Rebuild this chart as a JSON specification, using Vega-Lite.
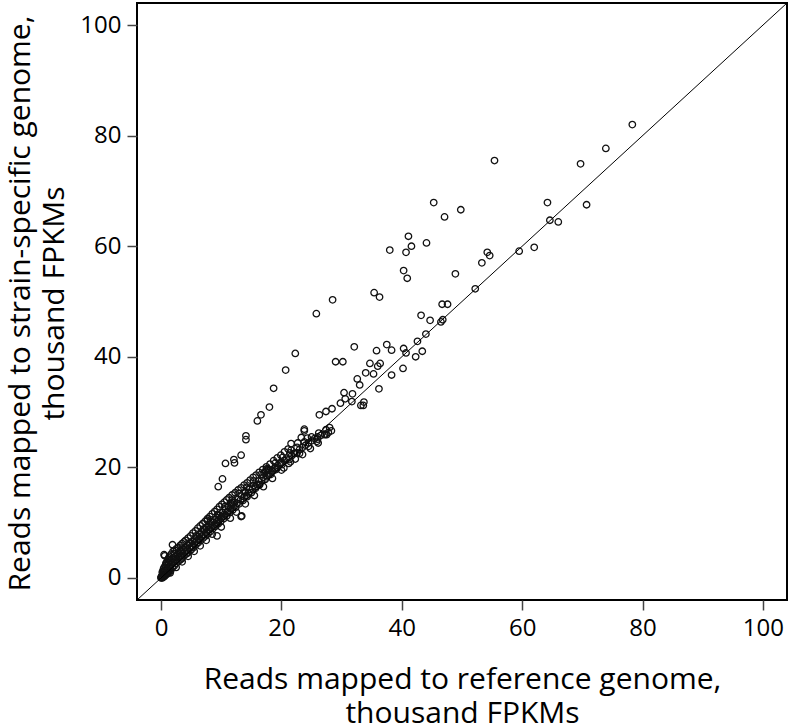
{
  "$schema": "https://vega.github.io/schema/vega-lite/v6.json",
  "autosize": {"type": "none"},
  "padding": {"left": 137, "top": 3, "right": 5, "bottom": 126},
  "width": 650,
  "height": 597,
  "config": {
    "font": "Open Sans",
    "view": {"stroke": "#000", "strokeWidth": 2},
    "axis": {
      "domain": false, "grid": false,
      "tickColor": "#444", "tickWidth": 1.5, "tickSize": 10,
      "labelFont": "Open Sans", "labelFontSize": 24, "labelColor": "#000", "labelPadding": 6,
      "titleFont": "Open Sans", "titleFontSize": 30, "titleFontWeight": "normal", "titleColor": "#000"
    }
  },
  "datasets": {
    "diag": [{"ref": -4, "strain": -4}, {"ref": 104, "strain": 104}],
    "pts": [
      {"ref":1.9,"strain":6.0},{"ref":0.5,"strain":4.2},{"ref":0.6,"strain":4.0},{"ref":7.7,"strain":10.4},
      {"ref":9.5,"strain":16.5},{"ref":10.2,"strain":17.9},{"ref":10.7,"strain":20.7},{"ref":12.1,"strain":21.4},
      {"ref":12.2,"strain":20.8},{"ref":13.3,"strain":22.2},{"ref":14.1,"strain":25.7},{"ref":14.1,"strain":25.0},
      {"ref":16.0,"strain":28.4},{"ref":16.6,"strain":29.5},{"ref":18.0,"strain":30.9},{"ref":18.7,"strain":34.3},
      {"ref":20.7,"strain":37.6},{"ref":22.3,"strain":40.6},{"ref":25.8,"strain":47.8},{"ref":28.5,"strain":50.3},
      {"ref":35.4,"strain":51.6},{"ref":36.3,"strain":50.8},{"ref":38.0,"strain":59.3},{"ref":40.7,"strain":58.9},
      {"ref":41.1,"strain":61.8},{"ref":41.6,"strain":60.0},{"ref":44.1,"strain":60.6},{"ref":40.3,"strain":55.6},
      {"ref":40.9,"strain":54.2},{"ref":45.3,"strain":67.9},{"ref":47.1,"strain":65.3},{"ref":49.8,"strain":66.6},
      {"ref":55.4,"strain":75.5},{"ref":48.9,"strain":55.0},{"ref":53.3,"strain":57.0},{"ref":54.2,"strain":58.9},
      {"ref":54.6,"strain":58.3},{"ref":52.2,"strain":52.3},{"ref":59.5,"strain":59.1},{"ref":62.0,"strain":59.8},
      {"ref":64.2,"strain":67.9},{"ref":64.6,"strain":64.7},{"ref":66.0,"strain":64.4},{"ref":70.7,"strain":67.5},
      {"ref":69.7,"strain":74.9},{"ref":73.9,"strain":77.7},{"ref":78.3,"strain":82.0},
      {"ref":43.2,"strain":47.5},{"ref":44.7,"strain":46.6},{"ref":46.7,"strain":49.5},{"ref":47.6,"strain":49.5},
      {"ref":46.5,"strain":46.3},{"ref":46.8,"strain":46.7},{"ref":44.0,"strain":44.1},{"ref":42.6,"strain":42.8},
      {"ref":40.3,"strain":41.5},{"ref":40.7,"strain":40.7},{"ref":43.4,"strain":41.0},{"ref":42.3,"strain":40.0},
      {"ref":40.2,"strain":37.9},{"ref":32.1,"strain":41.8},{"ref":35.8,"strain":41.1},{"ref":37.5,"strain":42.2},
      {"ref":38.3,"strain":41.2},{"ref":29.0,"strain":39.1},{"ref":30.2,"strain":39.1},{"ref":34.7,"strain":38.8},
      {"ref":36.4,"strain":38.8},{"ref":36.0,"strain":38.3},{"ref":34.0,"strain":37.1},{"ref":35.3,"strain":36.9},
      {"ref":38.3,"strain":36.7},{"ref":32.6,"strain":36.0},{"ref":33.0,"strain":34.9},{"ref":36.2,"strain":34.2},
      {"ref":30.4,"strain":33.5},{"ref":31.8,"strain":33.3},{"ref":30.6,"strain":32.4},{"ref":31.7,"strain":31.9},
      {"ref":33.7,"strain":31.8},{"ref":33.6,"strain":31.2},{"ref":33.2,"strain":31.2},{"ref":29.8,"strain":31.6},
      {"ref":28.4,"strain":30.6},{"ref":27.4,"strain":30.1},{"ref":26.3,"strain":29.5},{"ref":23.8,"strain":26.9},
      {"ref":23.8,"strain":26.6},{"ref":24.3,"strain":25.3},{"ref":23.3,"strain":25.4},{"ref":22.7,"strain":24.4},
      {"ref":21.6,"strain":24.3},{"ref":21.6,"strain":23.1},{"ref":22.2,"strain":22.5},{"ref":27.2,"strain":25.9},
      {"ref":25.9,"strain":24.7},{"ref":24.8,"strain":23.4},{"ref":17.5,"strain":19.7},{"ref":19.9,"strain":20.9},
      {"ref":19.0,"strain":19.9},{"ref":13.4,"strain":11.2},{"ref":9.3,"strain":7.6},
      {"ref":26.1,"strain":24.4},{"ref":23.5,"strain":22.3},{"ref":22.3,"strain":21.5},{"ref":21.2,"strain":20.7},
      {"ref":20.4,"strain":19.9},{"ref":19.3,"strain":19.9},{"ref":18.5,"strain":19.3},{"ref":17.4,"strain":19.3},
      {"ref":17.6,"strain":18.5},{"ref":14.0,"strain":15.6},{"ref":14.2,"strain":14.9},{"ref":15.7,"strain":16.5},
      {"ref":16.3,"strain":16.8},{"ref":17.1,"strain":19.0},{"ref":17.8,"strain":19.4},{"ref":11.6,"strain":13.5},
      {"ref":11.1,"strain":12.0},{"ref":10.3,"strain":11.1},{"ref":9.6,"strain":10.5},{"ref":9.2,"strain":9.6},
      {"ref":8.0,"strain":8.7},{"ref":6.3,"strain":6.9},{"ref":5.2,"strain":5.6},{"ref":4.4,"strain":4.5},
      {"ref":3.4,"strain":3.4},{"ref":11.9,"strain":13.6},{"ref":13.3,"strain":11.1},
      {"ref":0.0,"strain":0.1},{"ref":0.1,"strain":0.3},{"ref":0.2,"strain":0.0},{"ref":0.3,"strain":0.6},
      {"ref":0.4,"strain":0.9},{"ref":0.5,"strain":0.2},{"ref":0.6,"strain":1.3},{"ref":0.7,"strain":0.5},
      {"ref":0.8,"strain":1.8},{"ref":0.9,"strain":1.0},{"ref":1.0,"strain":2.4},{"ref":1.0,"strain":0.8},
      {"ref":1.1,"strain":1.5},{"ref":1.2,"strain":2.9},{"ref":1.3,"strain":1.2},{"ref":1.4,"strain":2.0},
      {"ref":1.5,"strain":3.1},{"ref":1.6,"strain":1.7},{"ref":1.7,"strain":2.5},{"ref":1.8,"strain":3.4},
      {"ref":1.9,"strain":1.9},{"ref":2.0,"strain":2.8},{"ref":2.1,"strain":3.6},{"ref":2.2,"strain":2.2},
      {"ref":2.3,"strain":3.0},{"ref":2.4,"strain":3.9},{"ref":2.5,"strain":2.6},{"ref":2.6,"strain":3.4},
      {"ref":2.7,"strain":4.2},{"ref":2.8,"strain":2.9},{"ref":2.9,"strain":3.7},{"ref":3.0,"strain":4.5},
      {"ref":3.1,"strain":3.2},{"ref":3.2,"strain":4.0},{"ref":3.3,"strain":4.8},{"ref":3.5,"strain":3.6},
      {"ref":3.6,"strain":4.4},{"ref":3.7,"strain":5.2},{"ref":3.8,"strain":4.0},{"ref":3.9,"strain":4.7},
      {"ref":4.0,"strain":5.5},{"ref":4.2,"strain":4.3},{"ref":4.3,"strain":5.0},{"ref":4.4,"strain":5.9},
      {"ref":4.6,"strain":4.7},{"ref":4.7,"strain":5.4},{"ref":4.8,"strain":6.2},{"ref":5.0,"strain":5.1},
      {"ref":5.1,"strain":5.8},{"ref":5.2,"strain":6.6},{"ref":5.4,"strain":5.5},{"ref":5.5,"strain":6.3},
      {"ref":5.6,"strain":7.0},{"ref":5.8,"strain":6.0},{"ref":5.9,"strain":6.7},{"ref":6.0,"strain":7.4},
      {"ref":6.2,"strain":6.4},{"ref":6.3,"strain":7.1},{"ref":6.4,"strain":7.9},{"ref":6.6,"strain":6.8},
      {"ref":6.7,"strain":7.5},{"ref":6.8,"strain":8.3},{"ref":7.0,"strain":7.2},{"ref":7.1,"strain":7.9},
      {"ref":7.2,"strain":8.7},{"ref":7.4,"strain":7.6},{"ref":7.5,"strain":8.3},{"ref":7.6,"strain":9.1},
      {"ref":7.8,"strain":8.0},{"ref":7.9,"strain":8.8},{"ref":8.0,"strain":9.6},{"ref":8.2,"strain":8.4},
      {"ref":8.3,"strain":9.2},{"ref":8.5,"strain":10.1},{"ref":8.6,"strain":8.9},{"ref":8.8,"strain":9.6},
      {"ref":8.9,"strain":10.5},{"ref":9.0,"strain":9.3},{"ref":9.2,"strain":10.1},{"ref":9.3,"strain":10.9},
      {"ref":9.5,"strain":9.8},{"ref":9.6,"strain":10.6},{"ref":9.7,"strain":11.3},{"ref":9.9,"strain":10.2},
      {"ref":10.0,"strain":11.0},{"ref":10.2,"strain":11.8},{"ref":10.4,"strain":10.7},{"ref":10.5,"strain":11.5},
      {"ref":10.7,"strain":12.3},{"ref":10.9,"strain":11.2},{"ref":11.0,"strain":12.0},{"ref":11.2,"strain":12.8},
      {"ref":11.4,"strain":11.8},{"ref":11.5,"strain":12.5},{"ref":11.7,"strain":13.2},{"ref":11.9,"strain":12.3},
      {"ref":12.0,"strain":13.0},{"ref":12.2,"strain":13.7},{"ref":12.4,"strain":12.8},{"ref":12.6,"strain":13.5},
      {"ref":12.8,"strain":14.2},{"ref":13.0,"strain":13.4},{"ref":13.2,"strain":14.1},{"ref":13.4,"strain":14.8},
      {"ref":13.6,"strain":14.0},{"ref":13.8,"strain":14.7},{"ref":14.0,"strain":15.4},{"ref":14.3,"strain":14.7},
      {"ref":14.5,"strain":15.4},{"ref":14.7,"strain":16.0},{"ref":15.0,"strain":15.4},{"ref":15.2,"strain":16.1},
      {"ref":15.4,"strain":16.7},{"ref":15.7,"strain":16.2},{"ref":15.9,"strain":16.9},{"ref":16.2,"strain":17.5},
      {"ref":16.4,"strain":16.9},{"ref":16.7,"strain":17.6},{"ref":17.0,"strain":18.2},{"ref":17.3,"strain":17.8},
      {"ref":17.6,"strain":18.5},{"ref":17.9,"strain":19.0},{"ref":18.2,"strain":18.7},{"ref":18.5,"strain":19.4},
      {"ref":18.8,"strain":19.8},{"ref":19.1,"strain":19.6},{"ref":19.4,"strain":20.3},{"ref":19.8,"strain":20.6},
      {"ref":20.1,"strain":20.5},{"ref":20.5,"strain":21.2},{"ref":20.9,"strain":21.5},{"ref":21.3,"strain":21.4},
      {"ref":21.7,"strain":22.1},{"ref":22.1,"strain":22.5},{"ref":22.6,"strain":22.6},{"ref":23.0,"strain":23.2},
      {"ref":23.5,"strain":23.6},{"ref":24.0,"strain":24.0},{"ref":24.5,"strain":24.4},{"ref":25.0,"strain":24.8},
      {"ref":25.5,"strain":25.2},{"ref":26.0,"strain":25.5},{"ref":26.6,"strain":25.8},{"ref":27.2,"strain":26.0},
      {"ref":27.8,"strain":26.3},{"ref":28.3,"strain":26.6},
      {"ref":0.0,"strain":0.0},{"ref":0.1,"strain":0.1},{"ref":0.2,"strain":0.4},{"ref":0.3,"strain":0.2},
      {"ref":0.5,"strain":0.7},{"ref":0.6,"strain":0.4},{"ref":0.8,"strain":0.9},{"ref":0.9,"strain":0.6},
      {"ref":1.1,"strain":1.1},{"ref":1.2,"strain":0.9},{"ref":1.4,"strain":1.4},{"ref":1.6,"strain":1.3},
      {"ref":0.4,"strain":1.6},{"ref":0.7,"strain":2.2},{"ref":0.3,"strain":1.2},{"ref":1.3,"strain":3.6},
      {"ref":0.9,"strain":2.8},
      {"ref":0.2,"strain":1.0},{"ref":0.5,"strain":1.9},{"ref":0.8,"strain":2.6},{"ref":1.1,"strain":3.3},
      {"ref":1.4,"strain":3.9},{"ref":1.7,"strain":4.3},{"ref":2.0,"strain":4.8},{"ref":2.3,"strain":5.0},
      {"ref":2.6,"strain":5.3},{"ref":2.9,"strain":5.5},{"ref":3.2,"strain":5.9},{"ref":3.5,"strain":6.2},
      {"ref":3.8,"strain":6.5},{"ref":4.1,"strain":6.8},{"ref":4.5,"strain":7.2},{"ref":4.9,"strain":7.6},
      {"ref":5.3,"strain":8.1},{"ref":5.7,"strain":8.5},{"ref":6.1,"strain":9.0},{"ref":6.5,"strain":9.4},
      {"ref":6.9,"strain":9.8},{"ref":7.3,"strain":10.2},{"ref":7.7,"strain":10.7},{"ref":8.1,"strain":11.1},
      {"ref":8.5,"strain":11.6},{"ref":8.9,"strain":12.0},{"ref":9.3,"strain":12.4},{"ref":9.7,"strain":12.9},
      {"ref":10.1,"strain":13.3},{"ref":10.5,"strain":13.7},{"ref":10.9,"strain":14.1},{"ref":11.3,"strain":14.5},
      {"ref":11.8,"strain":15.0},{"ref":12.3,"strain":15.4},{"ref":12.8,"strain":15.9},{"ref":13.3,"strain":16.3},
      {"ref":13.8,"strain":16.8},{"ref":14.3,"strain":17.2},{"ref":14.8,"strain":17.7},{"ref":15.3,"strain":18.2},
      {"ref":15.8,"strain":18.6},{"ref":16.3,"strain":19.1},{"ref":16.9,"strain":19.6},{"ref":17.5,"strain":20.1},
      {"ref":18.1,"strain":20.6},{"ref":18.7,"strain":21.2},{"ref":19.3,"strain":21.7},{"ref":19.9,"strain":22.2},
      {"ref":20.5,"strain":22.8},{"ref":21.1,"strain":23.3},
      {"ref":1.5,"strain":0.9},{"ref":2.5,"strain":1.9},{"ref":3.5,"strain":2.9},{"ref":4.5,"strain":3.9},
      {"ref":5.5,"strain":4.8},{"ref":6.5,"strain":5.8},{"ref":7.5,"strain":6.8},{"ref":8.5,"strain":7.9},
      {"ref":10.0,"strain":9.2},{"ref":11.5,"strain":10.8},{"ref":12.5,"strain":11.9},{"ref":14.0,"strain":13.4},
      {"ref":15.5,"strain":14.9},{"ref":17.0,"strain":16.5},{"ref":18.5,"strain":18.0},{"ref":20.0,"strain":19.5},
      {"ref":21.5,"strain":21.0},{"ref":23.0,"strain":22.5},{"ref":24.5,"strain":23.8},{"ref":26.0,"strain":25.1},
      {"ref":27.5,"strain":25.9},
      {"ref":2.2,"strain":4.4},{"ref":3.4,"strain":5.1},{"ref":4.6,"strain":6.3},{"ref":5.8,"strain":7.6},
      {"ref":7.0,"strain":8.8},{"ref":8.2,"strain":10.2},{"ref":9.4,"strain":11.5},{"ref":10.6,"strain":12.9},
      {"ref":11.8,"strain":14.1},{"ref":13.0,"strain":15.3},{"ref":14.2,"strain":16.4},{"ref":15.4,"strain":17.5},
      {"ref":16.6,"strain":18.7},{"ref":17.8,"strain":19.7},{"ref":19.0,"strain":20.8},{"ref":20.2,"strain":21.8},
      {"ref":21.4,"strain":22.6},{"ref":22.6,"strain":23.6},{"ref":23.8,"strain":24.6},{"ref":25.0,"strain":25.5},
      {"ref":26.2,"strain":26.2},{"ref":27.4,"strain":26.8},{"ref":28.0,"strain":27.2}
    ]
  },
  "layer": [
    {
      "data": {"name": "pts"},
      "mark": {"type": "point", "shape": "circle", "filled": false, "stroke": "#111", "strokeWidth": 1.3, "size": 42, "opacity": 1},
      "encoding": {
        "x": {"field": "ref", "type": "quantitative",
              "scale": {"domain": [-4, 104], "nice": false, "zero": false},
              "axis": {"values": [0, 20, 40, 60, 80, 100],
                       "title": ["Reads mapped to reference genome,", "thousand FPKMs"],
                       "titleLineHeight": 34,
                       "titleBaseline": "alphabetic", "titleY": 88}},
        "y": {"field": "strain", "type": "quantitative",
              "scale": {"domain": [-4, 104], "nice": false, "zero": false},
              "axis": {"values": [0, 20, 40, 60, 80, 100],
                       "title": ["Reads mapped to strain-specific genome,", "thousand FPKMs"],
                       "titleLineHeight": 34,
                       "titleBaseline": "alphabetic", "titleX": -108, "titleY": 300, "titleAngle": -90}}
      }
    },
    {
      "data": {"name": "diag"},
      "mark": {"type": "line", "color": "#000", "strokeWidth": 1, "clip": true},
      "encoding": {
        "x": {"field": "ref", "type": "quantitative"},
        "y": {"field": "strain", "type": "quantitative"}
      }
    }
  ]
}
